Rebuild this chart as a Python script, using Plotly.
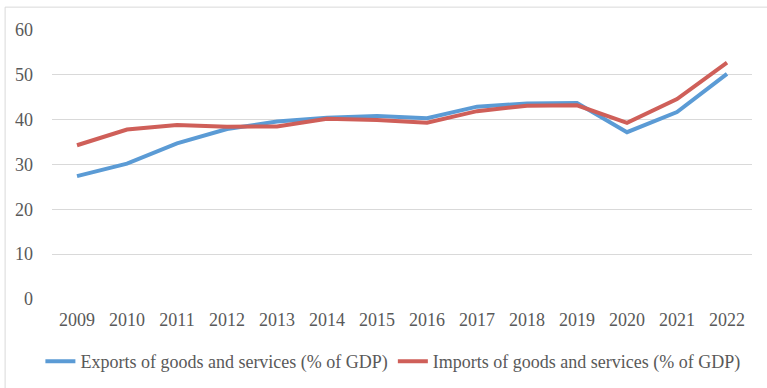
import plotly.graph_objects as go

years = [str(y) for y in range(2009, 2023)]
exports = [27.4, 30.2, 34.7, 37.9, 39.6, 40.4, 40.8, 40.3, 42.9, 43.6, 43.7, 37.2, 41.7, 50.2]
imports = [34.3, 37.8, 38.8, 38.4, 38.5, 40.2, 39.9, 39.3, 41.9, 43.1, 43.2, 39.3, 44.6, 52.7]

FONT = "Liberation Serif"
TEXT = "#595959"
SIZE = 18

fig = go.Figure()
fig.add_trace(go.Scatter(x=years, y=exports, mode="lines",
                         name="Exports of goods and services (% of GDP)",
                         line=dict(color="#5B9BD5", width=4)))
fig.add_trace(go.Scatter(x=years, y=imports, mode="lines",
                         name="Imports of goods and services (% of GDP)",
                         line=dict(color="#CF5F59", width=4)))

fig.update_layout(
    width=767, height=388,
    margin=dict(l=52, r=15, t=30, b=89, autoexpand=False),
    paper_bgcolor="white", plot_bgcolor="white",
    font=dict(family=FONT, size=SIZE, color=TEXT),
    showlegend=True,
    legend=dict(orientation="h", x=0.487, xanchor="center",
                yref="container", y=0.068, yanchor="middle",
                font=dict(family=FONT, size=SIZE, color=TEXT),
                itemwidth=30, tracegroupgap=0, bgcolor="rgba(0,0,0,0)"),
    xaxis=dict(type="category", range=[-0.5, len(years) - 0.5],
               showgrid=False, zeroline=False, showline=False,
               ticks="", ticklabelstandoff=8,
               tickfont=dict(family=FONT, size=SIZE, color=TEXT)),
    yaxis=dict(range=[0, 60], dtick=10, showgrid=True, gridcolor="#D9D9D9",
               gridwidth=1, zeroline=False, showline=False, ticks="",
               ticklabelstandoff=18,
               tickfont=dict(family=FONT, size=SIZE, color=TEXT)),
    shapes=[dict(type="rect", xref="paper", yref="paper",
                 x0=-0.067, x1=1.03, y0=-0.35, y1=1.085,
                 line=dict(color="#D9D9D9", width=1), fillcolor="rgba(0,0,0,0)",
                 layer="below")],
)

fig.write_html("out.html")
